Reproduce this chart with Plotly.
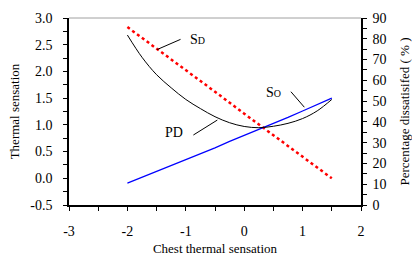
import plotly.graph_objects as go

# Data
x_so = [-2.0, -1.75, -1.5, -1.25, -1.0, -0.75, -0.5, -0.25, 0.0, 0.25, 0.5, 0.75, 1.0, 1.25, 1.5]
s_o = [-0.09, 0.02, 0.12, 0.24, 0.35, 0.46, 0.57, 0.69, 0.80, 0.92, 1.03, 1.14, 1.26, 1.38, 1.50]

x_sd = [-2.0, -1.5, -1.0, -0.5, 0.0, 0.5, 1.0, 1.5]
s_d = [2.83, 2.43, 2.02, 1.62, 1.21, 0.81, 0.40, 0.0]

x_pd = [-2.0, -1.75, -1.5, -1.25, -1.0, -0.75, -0.5, -0.25, 0.0, 0.25, 0.5, 0.75, 1.0, 1.25, 1.5]
pd_vals = [81.8, 71.1, 62.7, 56.4, 50.8, 46.4, 42.5, 39.6, 37.8, 37.2, 37.9, 39.3, 41.6, 45.3, 50.8]

x_ticks = [-3, -2, -1, 0, 1, 2]
x_ticktext = ["-3", "-2", "-1", "0", "1", "2"]
y_ticks = [-0.5, 0.0, 0.5, 1.0, 1.5, 2.0, 2.5, 3.0]
y_ticktext = ["-0.5", "0.0", "0.5", "1.0", "1.5", "2.0", "2.5", "3.0"]
y2_ticks = [0, 10, 20, 30, 40, 50, 60, 70, 80, 90]
y2_ticktext = ["0", "10", "20", "30", "40", "50", "60", "70", "80", "90"]

FONT = "Liberation Serif"

fig = go.Figure()
fig.add_trace(go.Scatter(x=x_pd, y=pd_vals, mode="lines", yaxis="y2",
                         line=dict(color="black", width=1, shape="spline"), name="PD"))
fig.add_trace(go.Scatter(x=x_sd, y=s_d, mode="lines",
                         line=dict(color="#ff0000", width=2.5, dash="dot"), name="SD"))
fig.add_trace(go.Scatter(x=x_so, y=s_o, mode="lines",
                         line=dict(color="#0000ff", width=1.2), name="SO"))

# leader lines (data coords on left axis)
leaders = [(-1.09, 2.60, -1.49, 2.41), (-0.87, 0.81, -0.46, 1.09), (0.80, 1.62, 1.03, 1.33)]
for x0, y0, x1, y1 in leaders:
    fig.add_shape(type="line", xref="x", yref="y", x0=x0, y0=y0, x1=x1, y1=y1,
                  line=dict(color="black", width=1))

labels = [(-0.80, 2.60, "S<span style='font-size:10px'>D</span>"),
          (-1.20, 0.85, "PD"),
          (0.51, 1.60, "S<span style='font-size:10px'>O</span>")]
for lx, ly, t in labels:
    fig.add_annotation(x=lx, y=ly, xref="x", yref="y", text=t, showarrow=False,
                       font=dict(family=FONT, size=14, color="black"))

# grey top border
fig.add_shape(type="line", xref="paper", yref="paper", x0=0, x1=1, y0=1, y1=1,
              line=dict(color="#a0a0a0", width=1))

tickfont = dict(family=FONT, size=14, color="black")
titlefont = dict(family=FONT, size=13, color="black")
axis_common = dict(showgrid=False, zeroline=False, showline=True, linecolor="black",
                   linewidth=1.5, ticks="outside", ticklen=4, tickcolor="black",
                   tickfont=tickfont, automargin=False)

fig.update_layout(
    width=412, height=257,
    margin=dict(l=69, r=51, t=18, b=52, autoexpand=False),
    paper_bgcolor="white", plot_bgcolor="white",
    showlegend=False,
    xaxis=dict(range=[-3, 2], tickmode="array", tickvals=x_ticks, ticktext=x_ticktext,
               minor=dict(dtick=0.5, tick0=-3, ticks="outside", ticklen=4, tickcolor="black"),
               ticklabelstandoff=8,
               title=dict(text="Chest thermal sensation", font=titlefont, standoff=6),
               **axis_common),
    yaxis=dict(range=[-0.5, 3.0], tickmode="array", tickvals=y_ticks, ticktext=y_ticktext,
               minor=dict(dtick=0.25, tick0=-0.5, ticks="outside", ticklen=4, tickcolor="black"),
               ticklabelstandoff=8,
               title=dict(text="Thermal sensation", font=titlefont, standoff=8),
               **axis_common),
    yaxis2=dict(range=[0, 90], tickmode="array", tickvals=y2_ticks, ticktext=y2_ticktext,
                overlaying="y", side="right",
                minor=dict(dtick=5, tick0=0, ticks="outside", ticklen=4, tickcolor="black"),
                ticklabelstandoff=3,
                title=dict(text="Percentage dissatisifed ( % )", font=titlefont, standoff=15),
                **axis_common),
)

fig.write_html("out.html", config={"displayModeBar": False},
               post_script="document.body.style.margin='0';")
